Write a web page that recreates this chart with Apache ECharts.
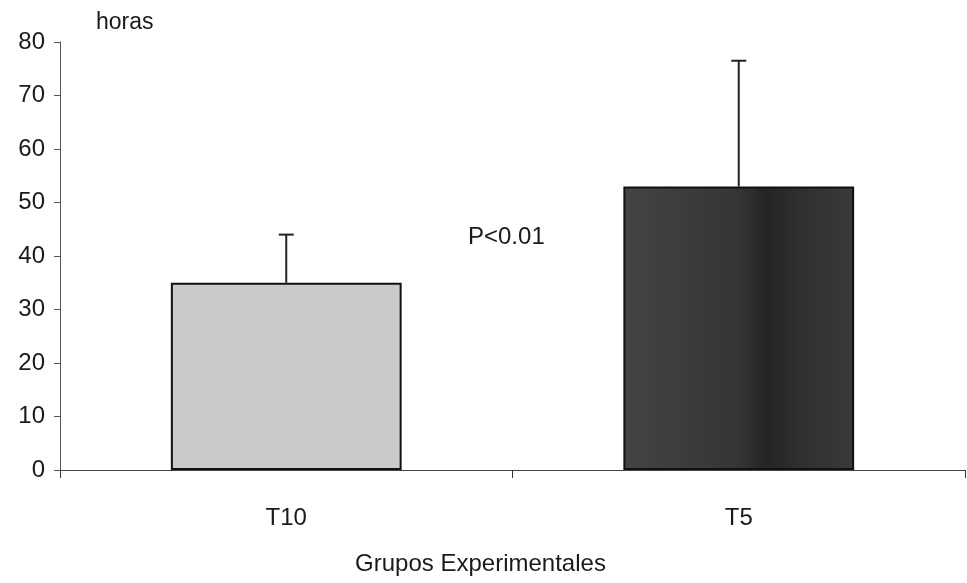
<!DOCTYPE html>
<html>
<head>
<meta charset="utf-8">
<script src="https://cdn.jsdelivr.net/npm/echarts@6/dist/echarts.min.js"></script>
<style>html,body{margin:0;padding:0;background:#fff}#c{width:967px;height:583px}</style>
</head>
<body>
<div id="c"></div>
<script>
const categories = ['T10', 'T5'];
const means = [35, 53];
const errors = [9, 23.5];
const yTicks = [0, 10, 20, 30, 40, 50, 60, 70, 80];
const annotation = 'P<0.01';

const chart = echarts.init(document.getElementById('c'), null, {renderer: 'canvas'});
const font = 'Liberation Sans, Arial, sans-serif';
const fills = [
  '#cacaca',
  new echarts.graphic.LinearGradient(0, 0, 1, 0, [
    {offset: 0, color: '#444444'},
    {offset: 0.5, color: '#353535'},
    {offset: 0.62, color: '#242424'},
    {offset: 0.75, color: '#2e2e2e'},
    {offset: 1, color: '#3a3a3a'}
  ])
];
chart.setOption({
  animation: false,
  backgroundColor: '#ffffff',
  grid: {left: 60, right: 2, top: 42, bottom: 113},
  xAxis: {
    type: 'category',
    data: categories,
    axisLine: {lineStyle: {color: '#444', width: 1}},
    axisTick: {show: true, length: 8, lineStyle: {color: '#333'}},
    axisLabel: {color: '#1a1a1a', fontSize: 24, fontFamily: font, margin: 36},
    name: 'Grupos Experimentales',
    nameLocation: 'middle',
    nameGap: 82,
    nameTextStyle: {color: '#1a1a1a', fontSize: 24, fontFamily: font, padding: [0, 64, 0, 0]}
  },
  yAxis: {
    type: 'value',
    min: yTicks[0],
    max: yTicks[yTicks.length - 1],
    interval: 10,
    splitLine: {show: false},
    axisLine: {show: true, lineStyle: {color: '#555', width: 1}},
    axisTick: {show: true, length: 6, lineStyle: {color: '#555'}},
    axisLabel: {color: '#1a1a1a', fontSize: 24, fontFamily: font, margin: 15},
    name: 'horas',
    nameLocation: 'end',
    nameGap: 8,
    nameTextStyle: {color: '#1a1a1a', fontSize: 23, fontFamily: font, align: 'left', padding: [0, 0, 0, 36]}
  },
  series: [
    {
      type: 'bar',
      barWidth: '51%',
      data: means.map((v, i) => ({value: v, itemStyle: {color: fills[i]}})),
      itemStyle: {borderColor: '#111', borderWidth: 2},
      z: 2
    },
    {
      type: 'custom',
      z: 3,
      data: means.map((v, i) => [i, v, v + errors[i]]),
      renderItem: function (params, api) {
        const x = api.value(0);
        const p0 = api.coord([x, api.value(1)]);
        const p1 = api.coord([x, api.value(2)]);
        const cap = 7.5;
        return {
          type: 'group',
          children: [
            {type: 'line', shape: {x1: p0[0], y1: p0[1], x2: p1[0], y2: p1[1]}, style: {stroke: '#222', lineWidth: 2}},
            {type: 'line', shape: {x1: p1[0] - cap, y1: p1[1], x2: p1[0] + cap, y2: p1[1]}, style: {stroke: '#222', lineWidth: 2}}
          ]
        };
      }
    }
  ],
  graphic: [
    {type: 'text', left: 468, top: 225, style: {text: annotation, fontSize: 24, fontFamily: font, fill: '#1a1a1a'}}
  ]
});
</script>
</body>
</html>
